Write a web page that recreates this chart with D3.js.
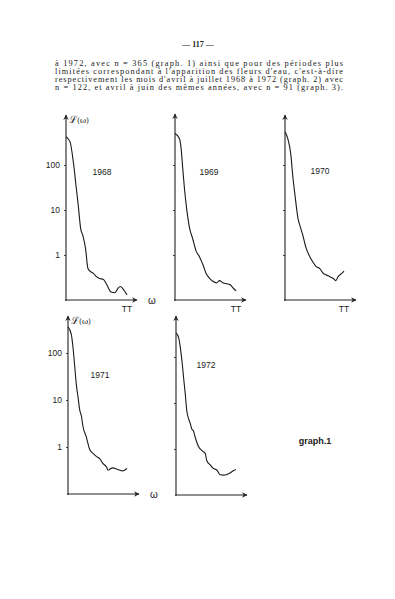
<!DOCTYPE html>
<html>
<head>
<meta charset="utf-8">
<script src="https://cdn.jsdelivr.net/npm/d3@7"></script>
<style>
  body { margin: 0; background: #fff; }
  svg { display: block; }
  .para { font-family: "Liberation Serif", serif; font-size: 8.3px; fill: #222; }
  .lbl { font-family: "Liberation Sans", Arial, sans-serif; fill: #222; }
</style>
</head>
<body>
<div id="chart"></div>
<script>
var svgWidth = 395;
var svgHeight = 599;

var years = ["1968", "1969", "1970", "1971", "1972"];
var omega1968 = [0, 0.065, 0.12, 0.163, 0.2, 0.24, 0.28, 0.32, 0.36, 0.40, 0.45, 0.5, 0.55, 0.61, 0.66, 0.74, 0.8, 0.85, 0.89, 0.93, 1.0];
var spec1968 = [426, 330, 118, 36, 13, 3.9, 2.6, 1.4, 0.50, 0.43, 0.39, 0.33, 0.30, 0.29, 0.23, 0.15, 0.145, 0.18, 0.20, 0.18, 0.13];
var omega1969 = [0, 0.072, 0.10, 0.127, 0.155, 0.19, 0.24, 0.29, 0.35, 0.40, 0.46, 0.51, 0.57, 0.62, 0.68, 0.73, 0.79, 0.85, 0.90, 0.96, 1.0];
var spec1969 = [500, 390, 234, 84, 30, 11, 3.9, 2.3, 1.19, 0.92, 0.60, 0.39, 0.30, 0.26, 0.24, 0.27, 0.24, 0.23, 0.22, 0.18, 0.16];
var omega1970 = [0, 0.046, 0.10, 0.13, 0.17, 0.22, 0.26, 0.30, 0.36, 0.42, 0.47, 0.53, 0.59, 0.65, 0.70, 0.76, 0.82, 0.86, 0.90, 0.96, 1.0];
var spec1970 = [550, 390, 166, 60, 21, 6.5, 4.2, 2.8, 1.4, 0.92, 0.71, 0.55, 0.50, 0.39, 0.36, 0.33, 0.30, 0.27, 0.33, 0.39, 0.44];
var omega1971 = [0, 0.056, 0.085, 0.11, 0.14, 0.17, 0.20, 0.23, 0.25, 0.31, 0.37, 0.42, 0.48, 0.54, 0.59, 0.65, 0.68, 0.71, 0.76, 0.82, 0.88, 0.92, 0.96, 1.0];
var spec1971 = [360, 250, 131, 59, 22, 11.5, 6.0, 4.4, 2.9, 1.65, 0.87, 0.74, 0.63, 0.56, 0.45, 0.38, 0.32, 0.34, 0.36, 0.34, 0.32, 0.31, 0.32, 0.35];
var omega1972 = [0, 0.044, 0.072, 0.10, 0.127, 0.155, 0.18, 0.24, 0.265, 0.29, 0.32, 0.38, 0.43, 0.49, 0.51, 0.57, 0.62, 0.68, 0.73, 0.79, 0.85, 0.90, 0.96, 1.0];
var spec1972 = [335, 263, 160, 81, 35, 15.5, 6.7, 3.5, 2.7, 2.5, 1.8, 1.1, 0.93, 0.79, 0.57, 0.45, 0.38, 0.35, 0.28, 0.27, 0.28, 0.30, 0.34, 0.36];
var yTicks = [1, 10, 100];

var omegas = [omega1968, omega1969, omega1970, omega1971, omega1972];
var specs = [spec1968, spec1969, spec1970, spec1971, spec1972];

// panel placement on the page
var panels = [
  {x0: 66, y0: 300, top: 115, w: 61, dec: 45, labels: true, omegaLbl: true, piLbl: true, yr: [36, 175]},
  {x0: 175, y0: 300, top: 114, w: 61, dec: 45, labels: false, omegaLbl: false, piLbl: true, yr: [34, 175]},
  {x0: 285, y0: 300, top: 115, w: 59, dec: 45, labels: false, omegaLbl: false, piLbl: true, yr: [35, 174]},
  {x0: 68, y0: 494, top: 316, w: 59, dec: 47, labels: true, omegaLbl: true, piLbl: false, yr: [32, 378]},
  {x0: 176, y0: 495, top: 316, w: 60, dec: 46, labels: false, omegaLbl: false, piLbl: false, yr: [30, 368]}
];

var paragraph = [
  "à 1972, avec n = 365 (graph. 1) ainsi que pour des périodes plus",
  "limitées correspondant à l'apparition des fleurs d'eau, c'est-à-dire",
  "respectivement les mois d'avril à juillet 1968 à 1972 (graph. 2) avec",
  "n = 122, et avril à juin des mêmes années, avec n = 91 (graph. 3)."
];

var svg = d3.select("#chart")
  .append("svg")
  .attr("width", svgWidth)
  .attr("height", svgHeight);

svg.append("defs").append("marker")
  .attr("id", "arrow")
  .attr("viewBox", "0 0 10 10")
  .attr("refX", 9)
  .attr("refY", 5)
  .attr("markerWidth", 5)
  .attr("markerHeight", 5)
  .attr("orient", "auto")
  .append("path")
  .attr("d", "M0,0 L10,5 L0,10 L3,5 Z")
  .attr("fill", "#222");

// page header + text
svg.append("text")
  .attr("class", "para")
  .attr("x", 198)
  .attr("y", 47)
  .attr("text-anchor", "middle")
  .style("font-weight", "bold")
  .style("font-size", "8px")
  .text("— 117 —");

svg.selectAll(".pline")
  .data(paragraph)
  .enter()
  .append("text")
  .attr("class", "para pline")
  .attr("x", 55)
  .attr("y", function(d, i) { return 65.5 + i * 8.2; })
  .attr("textLength", 288)
  .attr("lengthAdjust", "spacing")
  .text(function(d) { return d; });

var line = d3.line().curve(d3.curveMonotoneX);

panels.forEach(function(p, k) {
  var g = svg.append("g");
  var x = d3.scaleLinear().domain([0, 1]).range([p.x0, p.x0 + p.w]);
  var y = d3.scaleLog().domain([0.1, 1000]).range([p.y0, p.y0 - 4 * p.dec]);

  var leftAxis = d3.axisLeft(y).tickValues(yTicks).tickSize(2)
    .tickFormat(p.labels ? d3.format("d") : "");
  var ax = g.append("g")
    .attr("transform", "translate(" + p.x0 + ",0)")
    .call(leftAxis);
  ax.select(".domain").remove();
  ax.selectAll("line").attr("stroke", "#444");
  ax.selectAll("text")
    .attr("class", "lbl")
    .attr("x", -6)
    .attr("dy", "0.32em")
    .style("font-size", "8.5px");

  // axes with arrows
  g.append("line")
    .attr("x1", p.x0).attr("y1", p.y0 + 1)
    .attr("x2", p.x0).attr("y2", p.top)
    .attr("stroke", "#222").attr("stroke-width", 1.1)
    .attr("marker-end", "url(#arrow)");
  g.append("line")
    .attr("x1", p.x0 - 1).attr("y1", p.y0)
    .attr("x2", p.x0 + 71).attr("y2", p.y0)
    .attr("stroke", "#222").attr("stroke-width", 1.1)
    .attr("marker-end", "url(#arrow)");

  var pts = omegas[k].map(function(o, i) { return [x(o), y(specs[k][i])]; });
  g.append("path")
    .attr("d", line(pts))
    .attr("fill", "none")
    .attr("stroke", "#1a1a1a")
    .attr("stroke-width", 1.1);

  g.append("text")
    .attr("class", "lbl")
    .attr("x", p.x0 + p.yr[0])
    .attr("y", p.yr[1])
    .attr("text-anchor", "middle")
    .style("font-size", "8.5px")
    .text(years[k]);

  if (p.labels) {
    var yl = g.append("text")
      .attr("class", "lbl")
      .attr("x", p.x0 + 3)
      .attr("y", p.top + 8)
      .style("font-size", "10px")
      .style("font-family", "DejaVu Serif, serif");
    yl.append("tspan").text("ℒ");
    yl.append("tspan").style("font-size", "7.5px").text("(ω)");
  }
  if (p.omegaLbl) {
    g.append("text")
      .attr("class", "lbl")
      .attr("x", p.x0 + 82)
      .attr("y", p.y0 + 4)
      .style("font-size", "10px")
      .text("ω");
  }
  if (p.piLbl) {
    g.append("text")
      .attr("class", "lbl")
      .attr("x", x(1))
      .attr("y", p.y0 + 12)
      .attr("text-anchor", "middle")
      .style("font-size", "8.5px")
      .text("TT");
  }
});

svg.append("text")
  .attr("class", "lbl")
  .attr("x", 315)
  .attr("y", 444)
  .attr("text-anchor", "middle")
  .style("font-size", "9px")
  .style("font-weight", "bold")
  .text("graph.1");
</script>
</body>
</html>
